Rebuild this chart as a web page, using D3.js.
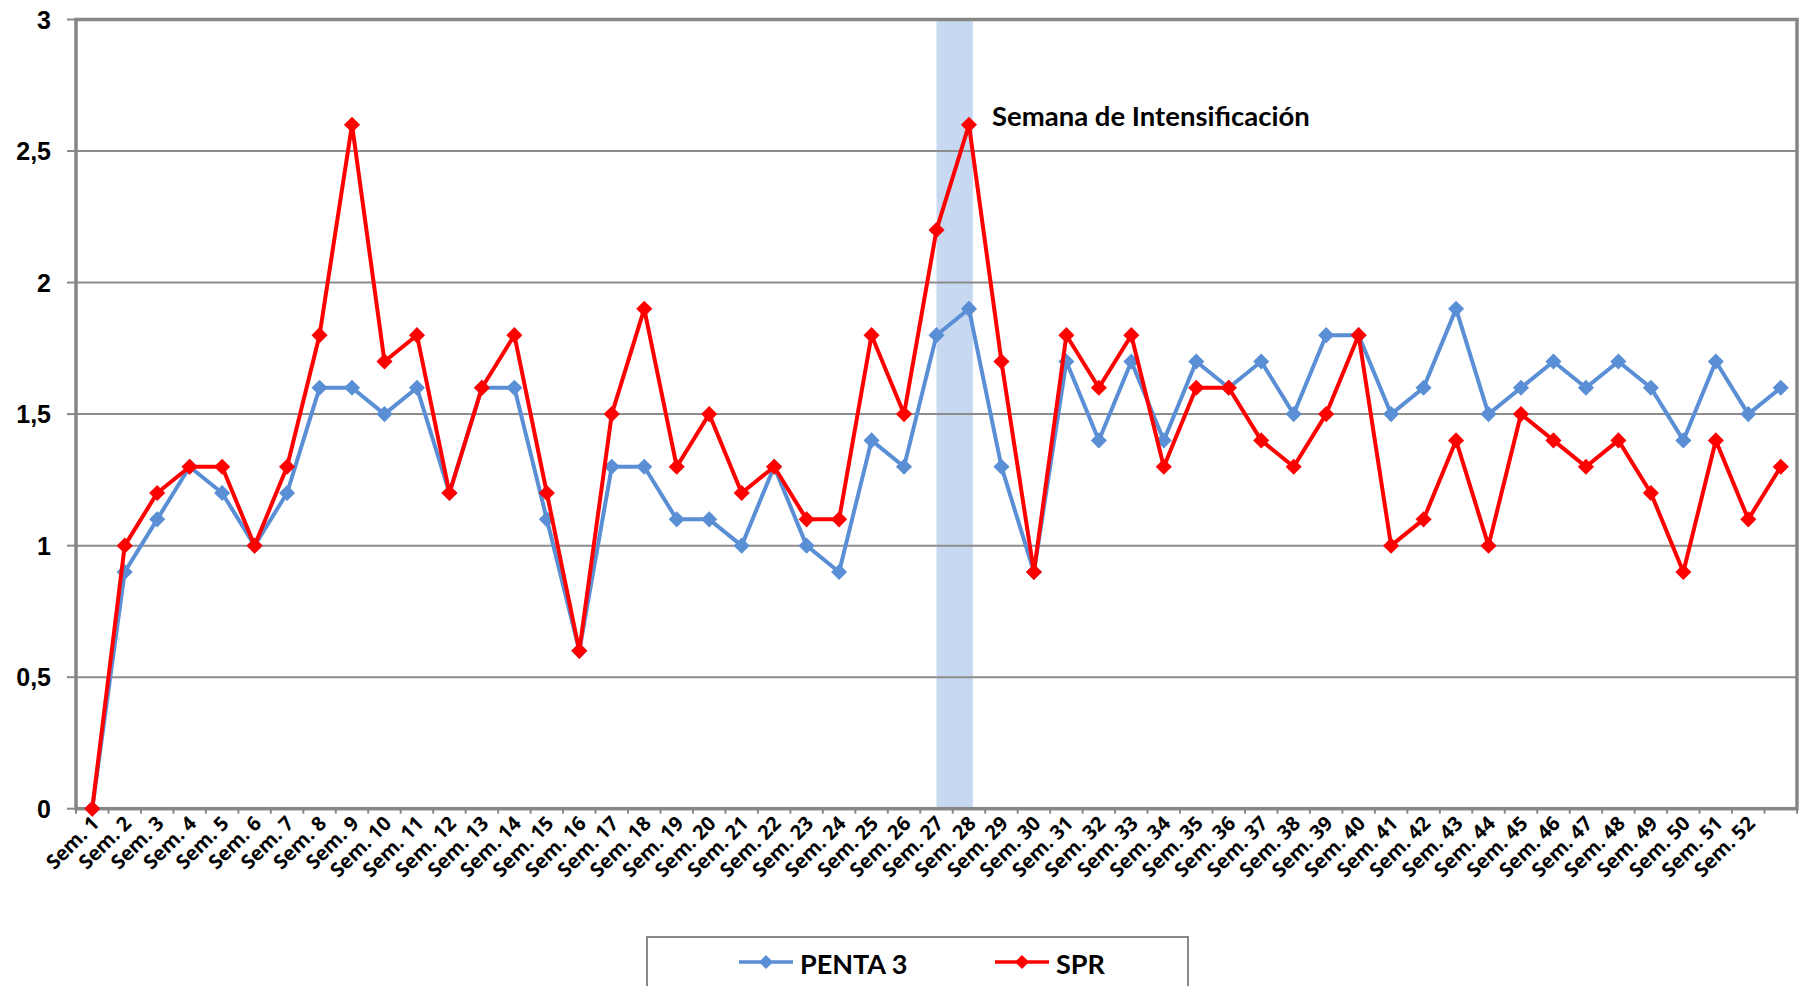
<!DOCTYPE html>
<html>
<head>
<meta charset="utf-8">
<script src="https://cdn.jsdelivr.net/npm/d3@7"></script>
<style>
  body { margin: 0; background: #fff; }
  svg { display: block; }
</style>
</head>
<body>
<svg id="chart" width="1803" height="986"></svg>
<script>
// week categories (the 53rd slot has no label in the original)
const weeks = [
  "Sem. 1","Sem. 2","Sem. 3","Sem. 4","Sem. 5","Sem. 6","Sem. 7","Sem. 8","Sem. 9","Sem. 10",
  "Sem. 11","Sem. 12","Sem. 13","Sem. 14","Sem. 15","Sem. 16","Sem. 17","Sem. 18","Sem. 19","Sem. 20",
  "Sem. 21","Sem. 22","Sem. 23","Sem. 24","Sem. 25","Sem. 26","Sem. 27","Sem. 28","Sem. 29","Sem. 30",
  "Sem. 31","Sem. 32","Sem. 33","Sem. 34","Sem. 35","Sem. 36","Sem. 37","Sem. 38","Sem. 39","Sem. 40",
  "Sem. 41","Sem. 42","Sem. 43","Sem. 44","Sem. 45","Sem. 46","Sem. 47","Sem. 48","Sem. 49","Sem. 50",
  "Sem. 51","Sem. 52",""
];

const penta3 = [
  0, 0.9, 1.1, 1.3, 1.2, 1.0, 1.2, 1.6, 1.6, 1.5,
  1.6, 1.2, 1.6, 1.6, 1.1, 0.6, 1.3, 1.3, 1.1, 1.1,
  1.0, 1.3, 1.0, 0.9, 1.4, 1.3, 1.8, 1.9, 1.3, 0.9,
  1.7, 1.4, 1.7, 1.4, 1.7, 1.6, 1.7, 1.5, 1.8, 1.8,
  1.5, 1.6, 1.9, 1.5, 1.6, 1.7, 1.6, 1.7, 1.6, 1.4,
  1.7, 1.5, 1.6
];

const spr = [
  0, 1.0, 1.2, 1.3, 1.3, 1.0, 1.3, 1.8, 2.6, 1.7,
  1.8, 1.2, 1.6, 1.8, 1.2, 0.6, 1.5, 1.9, 1.3, 1.5,
  1.2, 1.3, 1.1, 1.1, 1.8, 1.5, 2.2, 2.6, 1.7, 0.9,
  1.8, 1.6, 1.8, 1.3, 1.6, 1.6, 1.4, 1.3, 1.5, 1.8,
  1.0, 1.1, 1.4, 1.0, 1.5, 1.4, 1.3, 1.4, 1.2, 0.9,
  1.4, 1.1, 1.3
];

const yTicks = [0, 0.5, 1, 1.5, 2, 2.5, 3];
const highlightWeeks = ["Sem. 27", "Sem. 28"];
const annotation = "Semana de Intensificación";

const series = [
  { name: "PENTA 3", values: penta3, color: "#5a8fd6" },
  { name: "SPR",     values: spr,    color: "#ff0000" }
];

const svg = d3.select("#chart");
const m = { top: 19.5, right: 6, bottom: 177.3, left: 76 };
const W = +svg.attr("width"), H = +svg.attr("height");
const width = W - m.left - m.right, height = H - m.top - m.bottom;

const x = d3.scaleBand().domain(weeks).range([0, width]).padding(0);
const y = d3.scaleLinear().domain([0, 3]).range([height, 0]);
const cx = d => x(d) + x.bandwidth() / 2;

const g = svg.append("g").attr("transform", `translate(${m.left},${m.top})`);

// highlight band behind everything
const bx0 = cx(highlightWeeks[0]);
const bx1 = cx(highlightWeeks[1]) + x.bandwidth() * 0.12;
g.append("rect")
  .attr("x", bx0).attr("y", 0)
  .attr("width", bx1 - bx0).attr("height", height)
  .attr("fill", "#c6d9f0");

// grid
g.append("g").selectAll("line").data(yTicks.filter(t => t > 0 && t < 3))
  .join("line")
  .attr("x1", 0).attr("x2", width)
  .attr("y1", d => y(d)).attr("y2", d => y(d))
  .attr("stroke", "#8c8c8c").attr("stroke-width", 2);

// y axis labels + ticks
const yAxis = g.append("g");
yAxis.selectAll("line").data(yTicks).join("line")
  .attr("x1", -9).attr("x2", 0)
  .attr("y1", d => y(d)).attr("y2", d => y(d))
  .attr("stroke", "#888").attr("stroke-width", 2);
yAxis.selectAll("text").data(yTicks).join("text")
  .attr("x", -25).attr("y", d => y(d)).attr("dy", "0.36em")
  .attr("text-anchor", "end")
  .style("font", "bold 25px 'Liberation Sans', Arial, sans-serif")
  .attr("fill", "#000")
  .text(d => d3.format(".1~f")(d).replace(".", ","));

// x axis ticks at category boundaries
const bounds = weeks.map(w => x(w)).concat([width]);
g.append("g").selectAll("line").data(bounds).join("line")
  .attr("x1", d => d).attr("x2", d => d)
  .attr("y1", height).attr("y2", height + 5)
  .attr("stroke", "#888").attr("stroke-width", 2);

// x labels rotated
g.append("g").selectAll("text").data(weeks).join("text")
  .attr("transform", d => `translate(${cx(d) + 8},${height + 16}) rotate(-45)`)
  .attr("text-anchor", "end")
  .style("font", "bold 20px 'Open Sans', sans-serif")
  .attr("fill", "#000")
  .text(d => d);

// plot frame
g.append("rect")
  .attr("x", 0).attr("y", 0).attr("width", width).attr("height", height)
  .attr("fill", "none").attr("stroke", "#868686").attr("stroke-width", 3.5);

// lines and markers
const line = d3.line().x((d, i) => cx(weeks[i])).y(d => y(d));
const diamond = d3.symbol().type(d3.symbolSquare).size(130);

series.forEach(s => {
  const sg = g.append("g");
  sg.append("path").datum(s.values)
    .attr("d", line)
    .attr("fill", "none").attr("stroke", s.color)
    .attr("stroke-width", 4).attr("stroke-linejoin", "round");
  sg.selectAll("path.mk").data(s.values).join("path")
    .attr("class", "mk")
    .attr("d", diamond)
    .attr("transform", (d, i) => `translate(${cx(weeks[i])},${y(d)}) rotate(45)`)
    .attr("fill", s.color);
});

// annotation
g.append("text")
  .attr("x", cx(highlightWeeks[1]) + 23).attr("y", 106)
  .style("font", "bold 27.5px Lato, sans-serif")
  .attr("fill", "#000")
  .text(annotation);

// legend
const leg = svg.append("g").attr("transform", "translate(647,937)");
leg.append("rect")
  .attr("x", 0).attr("y", 0).attr("width", 541).attr("height", 70)
  .attr("fill", "#fff").attr("stroke", "#888").attr("stroke-width", 2);
const legX = [92, 348];
series.forEach((s, i) => {
  const it = leg.append("g").attr("transform", `translate(${legX[i]},25)`);
  it.append("line").attr("x1", 0).attr("x2", 54).attr("y1", 0).attr("y2", 0)
    .attr("stroke", s.color).attr("stroke-width", 3.5);
  it.append("path").attr("d", d3.symbol().type(d3.symbolSquare).size(100))
    .attr("transform", "translate(27,0) rotate(45)").attr("fill", s.color);
  it.append("text").attr("x", 61).attr("y", 12)
    .style("font", "bold 27px Lato, sans-serif")
    .attr("fill", "#000")
    .text(s.name);
});
</script>
</body>
</html>
